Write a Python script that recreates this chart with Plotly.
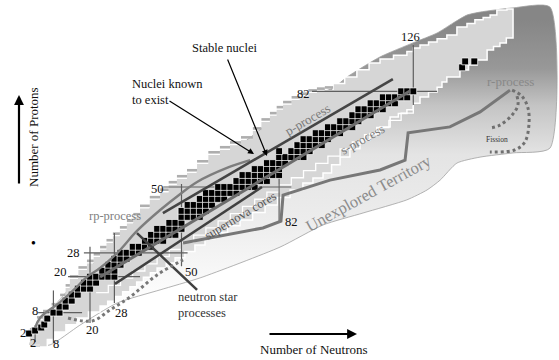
import plotly.graph_objects as go

W, H = 559, 360
N_RANGE = [-9.51, 173.77]
Z_RANGE = [-7.86, 112.54]
FONT = "Liberation Serif"

# ---------------- data (neutron number N, proton number Z) ----------------
stable_N = [0, 2, 4, 5, 6,
            8, 10,
            10, 12, 12, 14, 14, 16,
            16, 18, 20, 18, 20, 22,
            20, 22, 24, 26, 28,
            24, 26, 28, 26, 28, 30,
            28, 30, 32, 30, 32, 34, 36,
            34, 36, 38, 40, 38, 40, 42, 44,
            40, 42, 44, 46, 48, 42, 44, 46, 48, 50,
            46, 48, 50, 50, 52, 54, 56,
            50, 52, 54, 56, 58, 52, 54, 56, 58, 60,
            56, 58, 60, 62, 64, 58, 60, 62, 64, 66, 68,
            62, 64, 66, 68, 70, 72, 74,
            68, 70, 72, 74, 76, 78,
            70, 72, 74, 76, 78, 80, 82,
            74, 76, 78, 80, 82,
            78, 80, 82, 84,
            82, 84, 86, 88, 90,
            82, 86, 88, 90, 92,
            88, 90, 92, 94, 96,
            90, 92, 94, 96, 98,
            94, 96, 98, 100, 102,
            98, 100, 102, 104, 106,
            102, 104, 106, 108,
            106, 108, 110, 112,
            108, 110, 112, 114, 116,
            112, 114, 116, 118, 120,
            116, 118, 120, 122, 124,
            122, 124, 126,
            142, 143, 146]
stable_Z = [1, 2, 3, 4, 6,
            8, 8,
            10, 10, 12, 12, 14, 14,
            16, 16, 16, 18, 18, 18,
            20, 20, 20, 20, 20,
            22, 22, 22, 24, 24, 24,
            26, 26, 26, 28, 28, 28, 28,
            30, 30, 30, 30, 32, 32, 32, 32,
            34, 34, 34, 34, 34, 36, 36, 36, 36, 36,
            38, 38, 38, 40, 40, 40, 40,
            42, 42, 42, 42, 42, 44, 44, 44, 44, 44,
            46, 46, 46, 46, 46, 48, 48, 48, 48, 48, 48,
            50, 50, 50, 50, 50, 50, 50,
            52, 52, 52, 52, 52, 52,
            54, 54, 54, 54, 54, 54, 54,
            56, 56, 56, 56, 56,
            58, 58, 58, 58,
            60, 60, 60, 60, 60,
            62, 62, 62, 62, 62,
            64, 64, 64, 64, 64,
            66, 66, 66, 66, 66,
            68, 68, 68, 68, 68,
            70, 70, 70, 70, 70,
            72, 72, 72, 72,
            74, 74, 74, 74,
            76, 76, 76, 76, 76,
            78, 78, 78, 78, 78,
            80, 80, 80, 80, 80,
            82, 82, 82,
            90, 92, 92]

# nuclei known to exist: proton-rich edge, lower part (grey-striped side)
known_up_N = [0.3, 2.6, 4.6, 7.4, 10.2, 12.0, 13.4, 16.2, 19.0, 21.2, 23.3, 25.4, 27.5, 29.8,
              32.1, 34.2, 36.4, 39.6, 43.0, 45.8, 48.5, 51.8, 55.1, 58.8, 62.6, 65.9, 69.5,
              73.4, 76.2, 79.0, 81.2, 83.3, 86.1, 88.9, 91.6, 94.4, 97.0, 99.7]
known_up_Z = [-2.8, 1.5, 5.5, 7.6, 9.9, 13.0, 16.2, 19.2, 22.2, 24.4, 26.6, 29.0, 31.3, 33.5,
              35.6, 37.8, 40.0, 42.8, 45.7, 48.2, 50.7, 52.7, 54.7, 57.7, 60.7, 62.4, 64.0,
              65.7, 68.7, 71.7, 73.8, 75.8, 77.5, 79.1, 80.3, 81.4, 82.0, 82.4]
# upper lobe (white-outlined side)
known_lobe_N = [103.5, 107.5, 111.5, 115.1, 119.5, 123.9, 126.0, 128.2, 131.0, 133.8, 137.0,
                140.3, 143.6, 146.2, 148.9, 151.2, 153.4, 156.7, 158.7]
known_lobe_Z = [84.6, 86.8, 89.2, 91.5, 92.8, 94.1, 95.3, 96.5, 97.5, 98.5, 99.6,
                100.8, 103.5, 104.7, 105.9, 106.7, 107.5, 109.2, 109.5]
# neutron-rich edge (upper-right -> lower-left)
known_lo_N = [158.7, 156.5, 154.4, 152.3, 150.2, 146.9, 144.1, 141.3, 137.0, 135.4, 133.8,
              131.0, 128.2, 126.0, 123.9, 121.1, 118.4, 115.1, 111.8, 108.5, 105.2, 102.0,
              99.2, 96.4, 93.1, 89.8, 85.6, 81.5, 77.4, 73.3, 69.2, 65.1, 61.0, 57.7, 54.4,
              51.1, 47.9, 45.0, 42.0, 39.8, 37.5, 35.3, 33.1, 30.7, 28.2, 25.8, 23.3, 19.5,
              15.7, 12.1, 8.5, 6.0, 3.6]
known_lo_Z = [101.5, 99.8, 98.2, 97.0, 95.8, 92.5, 90.8, 89.1, 86.8, 85.1, 83.4,
              81.8, 80.1, 78.0, 75.8, 74.6, 73.4, 70.1, 67.9, 65.7, 62.8, 60.0,
              57.4, 54.7, 53.0, 51.3, 49.0, 46.5, 44.0, 41.5, 39.0, 37.0, 34.9, 32.7, 30.6,
              28.4, 26.3, 24.6, 22.9, 21.3, 19.8, 18.2, 16.6, 15.0, 13.4, 11.8, 10.2, 8.2,
              6.2, 3.9, 1.5, -1.0, -3.5]

# white staircase just below the stable nuclei
inner_N = [22, 26, 30, 34, 38, 42, 46, 50, 54, 58, 62, 66, 70, 74, 78, 82, 86, 90, 94, 98,
           102, 106, 110, 114, 118, 122, 126]
inner_Z = [14.7, 17.1, 19.5, 21.9, 24.3, 26.7, 29.1, 31.5, 33.9, 36.3, 38.7, 41.1, 43.5, 45.9,
           48.3, 50.7, 53.1, 55.5, 57.9, 60.3, 62.7, 65.1, 67.5, 69.9, 72.3, 74.7, 77.1]

# outer boundary of the chart (unexplored territory)
outer_N = [0.3, 4.6, 13.4, 23.3, 32.1, 43.0, 55.1, 66.0, 79.0, 88.9, 99.7, 104.3, 115.1, 125.9,
           133.8, 139.0, 143.6, 147.9, 158.7, 170.8, 170.8, 158.7, 147.9, 140.3, 134.8, 130.5,
           123.9, 109.5, 96.4, 82.3, 56.1, 43.0, 28.9, 16.7, 6.9]
outer_Z = [-2.8, 5.5, 16.2, 26.6, 35.6, 45.7, 54.7, 61.5, 71.7, 79.1, 83.1, 86.8, 93.5, 98.2,
           101.5, 104.8, 107.5, 108.5, 109.9, 110.2, 63.0, 61.4, 60.0, 58.0, 52.3, 49.0,
           45.7, 41.3, 37.3, 29.9, 19.6, 15.6, 11.2, 3.8, -2.8]

# magic numbers
magic_Z = [2, 8, 20, 28, 50, 82]
magic_Z_from = [-0.3, 3.0, 12.8, 18.0, 44.0, 92.8]
magic_Z_to = [5.2, 17.4, 36.4, 52.0, 86.0, 133.8]
magic_N = [2, 8, 20, 28, 50, 82, 126]
magic_N_from = [-1.8, -2.2, 4.5, 11.2, 23.5, 38.0, 77.4]
magic_N_to = [3.8, 15.4, 30.0, 34.6, 51.0, 57.0, 97.5]

# process paths
p_N, p_Z = [43.9, 119.3], [41.3, 86.1]
s_N, s_Z = [23.3, 124.9], [19.9, 82.1]
sn_N, sn_Z = [28.2, 76.4], [17.6, 50.0]
ns_N, ns_Z = [35.4, 55.1], [34.6, 15.6]
rp_N = [2.0, 3.6, 10.2, 15.7, 19.0, 23.3, 28.9, 35.4, 43.0, 49.5, 55.1, 64.9, 72.5]
rp_Z = [2.8, 6.2, 11.5, 16.6, 19.9, 22.9, 27.9, 35.3, 42.3, 47.6, 51.7, 56.4, 59.0]
r_N = [50.5, 76.7, 82.6, 83.3, 98.7, 115.1, 123.3, 124.3, 138.0, 147.9, 157.7]
r_Z = [31.3, 36.3, 38.6, 47.3, 52.3, 55.7, 59.0, 68.1, 70.1, 75.1, 82.4]
drip_N = [12.8, 20.7, 26.6, 33.1, 42.0, 50.5]
drip_Z = [6.2, 5.2, 8.9, 13.2, 20.6, 25.6]
fis_out_N = [158.4, 161.6, 163.6, 163.9, 162.6, 159.3, 151.1]
fis_out_Z = [82.4, 80.4, 76.4, 70.7, 65.1, 62.4, 61.7]
fis_in_N = [160.0, 160.3, 158.4, 154.4, 151.1]
fis_in_Z = [80.4, 77.4, 74.1, 70.7, 69.7]

# ---------------- figure ----------------
fig = go.Figure()

# unexplored territory (gradient)
fig.add_trace(go.Scatter(
    x=outer_N + [outer_N[0]], y=outer_Z + [outer_Z[0]], mode="lines", fill="toself",
    line=dict(color="#a0a0a0", width=0.8, shape="spline", smoothing=0.6),
    fillgradient=dict(type="vertical", start=10, stop=106,
                      colorscale=[[0.0, "#ffffff"], [0.31, "#ececec"], [0.53, "#e4e4e4"],
                                  [0.70, "#c4c4c4"], [0.83, "#989898"], [1.0, "#868686"]]),
    hoverinfo="skip"))

# known nuclei region
up_N = known_up_N + known_lobe_N
up_Z = known_up_Z + known_lobe_Z
kx = up_N + known_lo_N + [up_N[0]]
ky = up_Z + known_lo_Z + [up_Z[0]]
fig.add_trace(go.Scatter(x=kx, y=ky, mode="lines", fill="toself", fillcolor="#d6d6d6",
                         line=dict(color="rgba(0,0,0,0)", width=0, shape="vh"), hoverinfo="skip"))
# white outline on neutron-rich side and upper lobe
wx = known_up_N[-1:] + known_lobe_N + known_lo_N
wy = known_up_Z[-1:] + known_lobe_Z + known_lo_Z
fig.add_trace(go.Scatter(x=wx, y=wy, mode="lines",
                         line=dict(color="white", width=1.5, shape="vh"), hoverinfo="skip"))
# grey stripes (the treads of the proton-rich staircase)
sx, sy = [], []
for i in range(len(known_up_N) - 1):
    sx += [known_up_N[i], known_up_N[i + 1], None]
    sy += [known_up_Z[i + 1] + 0.9, known_up_Z[i + 1] + 0.9, None]
fig.add_trace(go.Scatter(x=sx, y=sy, mode="lines",
                         line=dict(color="#aeaeae", width=2.6), hoverinfo="skip"))
# inner white staircase
fig.add_trace(go.Scatter(x=inner_N, y=inner_Z, mode="lines",
                         line=dict(color="white", width=1.3, shape="hv"), hoverinfo="skip"))

# magic number lines
mx, my = [], []
for z, a, b in zip(magic_Z, magic_Z_from, magic_Z_to):
    mx += [a, b, None]
    my += [z, z, None]
for n, a, b in zip(magic_N, magic_N_from, magic_N_to):
    mx += [n, n, None]
    my += [a, b, None]
fig.add_trace(go.Scatter(x=mx, y=my, mode="lines", line=dict(color="#5f5f5f", width=1.2),
                         hoverinfo="skip"))

# stable nuclei
fig.add_trace(go.Scatter(x=stable_N, y=stable_Z, mode="markers",
                         marker=dict(symbol="square", size=6.8, color="black",
                                     line=dict(color="white", width=0.7)), hoverinfo="skip"))

# process lines
def add_line(xs, ys, color, width, dash="solid", shape="linear"):
    fig.add_trace(go.Scatter(x=xs, y=ys, mode="lines",
                             line=dict(color=color, width=width, dash=dash, shape=shape),
                             hoverinfo="skip"))

add_line(rp_N, rp_Z, "#7d7d7d", 2.4, shape="spline")
add_line(s_N, s_Z, "#6c6c6c", 3)
add_line(p_N, p_Z, "#454545", 2.6)
add_line(sn_N, sn_Z, "#404040", 2.5)
add_line(ns_N, ns_Z, "#404040", 2.5)
add_line(r_N, r_Z, "#777777", 3)
add_line(drip_N, drip_Z, "#777777", 3, dash="dot", shape="spline")
add_line(fis_out_N, fis_out_Z, "#707070", 3, dash="dot", shape="spline")
add_line(fis_in_N, fis_in_Z, "#707070", 3, dash="dot", shape="spline")

# ---------------- text ----------------
ann = []

def txt(s, x, y, size=12, color="#111111", angle=0, xanchor="center", align="left"):
    ann.append(dict(text=s, x=x / W, y=1 - y / H, xref="paper", yref="paper", showarrow=False,
                    xanchor=xanchor, yanchor="middle", textangle=angle, align=align,
                    font=dict(family=FONT, size=size, color=color)))

def arrow(hx, hy, tx, ty, width=1.2, head=2, size=1.0):
    ann.append(dict(text="", x=hx / W, y=1 - hy / H, xref="paper", yref="paper",
                    showarrow=True, ax=tx - hx, ay=ty - hy, arrowhead=head,
                    arrowsize=size, arrowwidth=width, arrowcolor="black"))

# magic-number labels
for s, x, y in [("2", 23, 333), ("8", 35, 311), ("20", 60, 272), ("28", 73, 253),
                ("50", 157, 189), ("82", 303, 94),
                ("2", 33, 343), ("8", 56, 344), ("20", 92, 330), ("28", 122, 313),
                ("50", 192, 272), ("82", 291, 222), ("126", 410, 37)]:
    txt(s, x, y, size=12.5)

txt("Stable nuclei", 224, 48, size=12.5)
txt("Nuclei known<br>to exist", 130, 92, size=12.5, xanchor="left")
txt("neutron star<br>processes", 176, 305, size=12.5, xanchor="left", color="#333333")
txt("rp-process", 115, 216, size=12.5, color="#808080")
txt("p-process", 308, 120, size=13, color="#7a7a7a", angle=-30)
txt("s-process", 362, 139, size=13, color="#7a7a7a", angle=-29)
txt("supernova cores", 240, 216, size=12.5, color="#555555", angle=-31)
txt("Unexplored Territory", 368, 193, size=16.5, color="#8c8c8c", angle=-29)
txt("r-process", 510, 82, size=13, color="#888888")
txt("Fission", 497, 140, size=7.5, color="#333333")
txt("Number of Protons", 33, 137, size=13, angle=-90)
txt("Number of Neutrons", 314, 349, size=13)
txt("●", 33, 242, size=8, color="black")

arrow(267, 156, 227, 58)
arrow(254, 154, 168, 100)
arrow(19, 95, 19, 185, width=2.2, head=2, size=0.9)
arrow(357, 334, 268, 334, width=2.2, head=2, size=0.9)

fig.update_layout(
    width=W, height=H, margin=dict(l=0, r=0, t=0, b=0),
    paper_bgcolor="white", plot_bgcolor="white", showlegend=False,
    xaxis=dict(range=N_RANGE, visible=False, fixedrange=True),
    yaxis=dict(range=Z_RANGE, visible=False, fixedrange=True),
    annotations=ann,
)

fig.write_html("out.html", config={"displayModeBar": False},
               post_script="document.body.style.margin='0px';document.body.style.overflow='hidden';")
